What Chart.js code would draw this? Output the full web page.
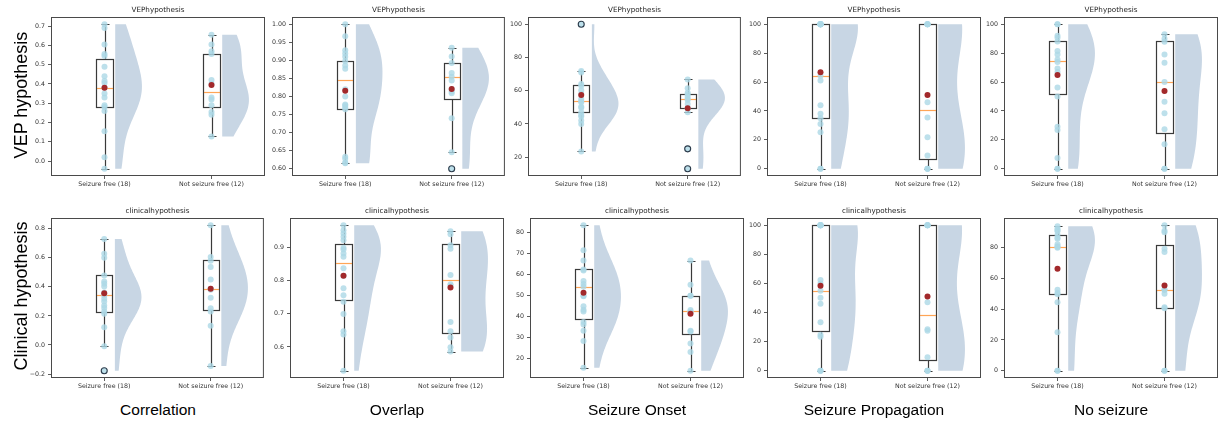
<!DOCTYPE html>
<html>
<head>
<meta charset="utf-8">
<script src="https://cdn.jsdelivr.net/npm/chart.js"></script>
<style>
  body { margin: 0; background: #fff; width: 1223px; height: 423px; position: relative; overflow: hidden; font-family: "Liberation Sans", Arial, sans-serif; }
  canvas { position: absolute; }
  .rowlab { position: absolute; font-size: 18px; color: #000; white-space: nowrap; transform: translate(-50%, -50%) rotate(-90deg); }
  .collab { position: absolute; font-size: 15.5px; color: #000; white-space: nowrap; transform: translate(-50%, -50%); }
</style>
</head>
<body>
<script>
const groups = ['Seizure free (18)', 'Not seizure free (12)'];
const positions = [1, 2];
const metrics = ['Correlation', 'Overlap', 'Seizure Onset', 'Seizure Propagation', 'No seizure'];
const rowLabels = ['VEP hypothesis', 'Clinical hypothesis'];
const panelTitles = ['VEPhypothesis', 'clinicalhypothesis'];

// patient values, one list per metric
const vepSeizureFree = [
  [0.71, 0.69, 0.605, 0.555, 0.545, 0.49, 0.44, 0.415, 0.405, 0.38, 0.35, 0.33, 0.29, 0.28, 0.26, 0.155, 0.02, -0.04],
  [1.00, 0.967, 0.928, 0.919, 0.91, 0.898, 0.886, 0.877, 0.82, 0.80, 0.778, 0.775, 0.77, 0.765, 0.633, 0.628, 0.617, 0.615],
  [100, 71.8, 71, 64, 63, 60.2, 58, 55, 53.8, 53, 50.4, 49.8, 47, 45.4, 44.4, 42, 40, 23.4],
  [100, 100, 100, 100, 100, 100, 100, 100, 100, 64.4, 61, 44, 38, 35, 31, 25.3, 0, 0],
  [100, 100, 92, 90.6, 88, 81.4, 79, 75.6, 73.8, 69.4, 67, 56.3, 50, 29, 26.9, 7.4, 0, 0]
];
const vepNotSeizureFree = [
  [0.655, 0.605, 0.57, 0.555, 0.42, 0.40, 0.33, 0.32, 0.29, 0.255, 0.24, 0.128],
  [0.935, 0.911, 0.893, 0.865, 0.855, 0.844, 0.82, 0.814, 0.809, 0.74, 0.646, 0.60],
  [66.8, 61.4, 58.8, 57.8, 56.4, 55, 54.4, 52, 49.4, 47, 25, 13],
  [100, 100, 100, 100, 100, 46, 35.4, 21.8, 9.2, 0, 0, 0],
  [93, 90, 87.8, 79, 73.3, 60, 46.4, 38.4, 27.4, 17, 0, 0]
];
const clinSeizureFree = [
  [0.729, 0.628, 0.60, 0.478, 0.437, 0.421, 0.402, 0.36, 0.34, 0.317, 0.299, 0.271, 0.255, 0.23, 0.214, 0.122, -0.009, -0.177],
  [0.967, 0.952, 0.942, 0.932, 0.922, 0.899, 0.894, 0.882, 0.872, 0.837, 0.815, 0.777, 0.756, 0.736, 0.699, 0.647, 0.637, 0.528],
  [83.5, 71.6, 66.7, 62.5, 62.0, 57, 55.6, 54.3, 50, 49.7, 45, 43.3, 42.5, 37.5, 36.3, 33.3, 28.4, 15.7],
  [100, 100, 100, 100, 100, 100, 100, 62.3, 60, 55, 50.1, 46, 33.3, 24.8, 23.4, 0, 0, 0],
  [93.9, 92.4, 91.5, 90.7, 88.5, 86.5, 85.9, 82.2, 81, 80.4, 80, 52.6, 50.7, 49.8, 44.6, 25, 0, 0]
];
const clinNotSeizureFree = [
  [0.823, 0.605, 0.579, 0.536, 0.451, 0.386, 0.38, 0.324, 0.253, 0.23, 0.133, -0.145],
  [0.949, 0.94, 0.907, 0.896, 0.817, 0.789, 0.785, 0.675, 0.647, 0.628, 0.599, 0.586],
  [66.7, 55.2, 50, 50, 43.2, 42.5, 42, 33.3, 33, 27.3, 23.2, 14.3],
  [100, 100, 100, 100, 100, 47.1, 28.5, 27.5, 9.2, 0, 0, 0],
  [94.6, 91.1, 90, 79.3, 77.2, 52.6, 52.6, 50, 41.3, 40.7, 0, 0]
];

// box stats: [lower whisker, q1, median, q3, upper whisker]
const vepBoxSF = [[-0.04, 0.281, 0.378, 0.528, 0.71], [0.615, 0.766, 0.847, 0.898, 1.0], [23.4, 47, 53.8, 63.2, 71.8], [0, 35, 64.4, 100, 100], [0, 51.5, 74.7, 88.3, 100]];
const vepBoxNSF = [[0.128, 0.279, 0.357, 0.555, 0.655], [0.646, 0.792, 0.854, 0.894, 0.935], [47, 49.4, 54.8, 57.8, 66.8], [0, 6.9, 40.5, 100, 100], [0, 24.6, 60, 88.3, 93]];
const clinBoxSF = [[-0.009, 0.228, 0.345, 0.478, 0.729], [0.528, 0.74, 0.853, 0.91, 0.967], [15.7, 38.7, 54.3, 62.5, 83.5], [0, 27.1, 54.9, 100, 100], [0, 49.8, 80.7, 88.5, 93.9]];
const clinBoxNSF = [[-0.145, 0.241, 0.386, 0.584, 0.823], [0.586, 0.642, 0.803, 0.91, 0.949], [14.3, 31.9, 42.7, 50, 66.7], [0, 7.4, 38, 100, 100], [0, 40.7, 52.6, 82, 94.6]];

const vepMeanSF = [0.38, 0.816, 57.4, 66.7, 64.8];
const vepMeanNSF = [0.395, 0.821, 49.4, 51, 53.8];
const clinMeanSF = [0.356, 0.815, 51.4, 58.4, 66.3];
const clinMeanNSF = [0.386, 0.779, 41.4, 51, 55.4];

const vepOutliersSF = [[], [], [100], [], []];
const vepOutliersNSF = [[], [0.60], [25, 13], [], []];
const clinOutliersSF = [[-0.177], [], [], [], []];
const clinOutliersNSF = [[], [], [], [], []];

const vepTicks = [
  [0, 0.1, 0.2, 0.3, 0.4, 0.5, 0.6, 0.7],
  [0.60, 0.65, 0.70, 0.75, 0.80, 0.85, 0.90, 0.95, 1.00],
  [20, 40, 60, 80, 100],
  [0, 20, 40, 60, 80, 100],
  [0, 20, 40, 60, 80, 100]
];
const clinTicks = [
  [-0.2, 0, 0.2, 0.4, 0.6, 0.8],
  [0.6, 0.7, 0.8, 0.9],
  [20, 30, 40, 50, 60, 70, 80],
  [0, 20, 40, 60, 80, 100],
  [0, 20, 40, 60, 80]
];
const vepTickDecimals = [1, 2, 0, 0, 0];
const clinTickDecimals = [1, 1, 0, 0, 0];

// layout of the panel frames
const colLeft = [[51, 292, 528, 767, 1004], [51, 290, 530, 767, 1004]];
const rowTop = [17, 218];
const rowHeight = [159, 160];
const panelWidth = 214;
const Y_W = 44, TITLE_H = 15, X_H = 22, PAD_R = 4;

// gaussian kernel density (scott bandwidth), same as the violin uses
function violinOutline(values, base, halfWidth) {
  const n = values.length;
  const mean = values.reduce((a, b) => a + b, 0) / n;
  const sd = Math.sqrt(values.reduce((a, v) => a + (v - mean) ** 2, 0) / (n - 1));
  const bw = sd * Math.pow(n, -0.2);
  const lo = Math.min(...values), hi = Math.max(...values);
  const ys = [], dens = [];
  for (let i = 0; i < 100; i++) {
    const y = lo + (hi - lo) * i / 99;
    let d = 0;
    for (const v of values) d += Math.exp(-0.5 * ((y - v) / bw) ** 2);
    ys.push(y);
    dens.push(d);
  }
  const maxD = Math.max(...dens);
  const pts = [{x: base, y: lo}];
  ys.forEach((y, i) => pts.push({x: base + halfWidth * dens[i] / maxD, y: y}));
  pts.push({x: base, y: hi});
  return pts;
}

function fmt(v, dec) {
  return v.toFixed(dec).replace('-', '\u2212');
}

function makePanel(r, c) {
  const vep = r === 0;
  const sets = vep ? [vepSeizureFree[c], vepNotSeizureFree[c]] : [clinSeizureFree[c], clinNotSeizureFree[c]];
  const boxes = vep ? [vepBoxSF[c], vepBoxNSF[c]] : [clinBoxSF[c], clinBoxNSF[c]];
  const means = vep ? [vepMeanSF[c], vepMeanNSF[c]] : [clinMeanSF[c], clinMeanNSF[c]];
  const outl = vep ? [vepOutliersSF[c], vepOutliersNSF[c]] : [clinOutliersSF[c], clinOutliersNSF[c]];
  const ticks = vep ? vepTicks[c] : clinTicks[c];
  const dec = vep ? vepTickDecimals[c] : clinTickDecimals[c];

  const canvas = document.createElement('canvas');
  canvas.width = Y_W + panelWidth + PAD_R;
  canvas.height = TITLE_H + rowHeight[r] + X_H;
  canvas.style.left = (colLeft[r][c] - Y_W) + 'px';
  canvas.style.top = (rowTop[r] - TITLE_H) + 'px';
  document.body.appendChild(canvas);

  const all = sets[0].concat(sets[1]);
  const lo = Math.min(...all), hi = Math.max(...all);
  const pad = (hi - lo) * 0.05;

  const datasets = [
    {
      data: positions.map((p, g) => ({x: p, y: means[g]})),
      backgroundColor: '#a2292b', borderWidth: 0, pointRadius: 3, order: 0
    },
    {
      data: [].concat(...positions.map((p, g) => outl[g].map(v => ({x: p, y: v})))),
      backgroundColor: 'rgba(0,0,0,0)', borderColor: '#2a3a4a', borderWidth: 1.1, pointRadius: 3, order: 1
    },
    {
      data: [].concat(...positions.map((p, g) => sets[g].map(v => ({x: p, y: v})))),
      backgroundColor: 'rgba(173,216,230,0.8)', borderWidth: 0, pointRadius: 3, order: 2
    }
  ];
  positions.forEach((p, g) => {
    datasets.push({
      data: violinOutline(sets[g], p + 0.1, 0.25),
      showLine: true, fill: 'shape', tension: 0.001,
      backgroundColor: 'rgb(200,214,228)', borderColor: 'rgb(200,214,228)', borderWidth: 0,
      pointRadius: 0, order: 5
    });
  });

  const boxPlugin = {
    id: 'boxes',
    beforeDatasetsDraw(chart) {
      const {ctx, scales: {x, y}} = chart;
      ctx.save();
      ctx.lineWidth = 1.2;
      boxes.forEach((b, g) => {
        const xc = Math.round(x.getPixelForValue(positions[g])) + 0.5;
        const x0 = Math.round(x.getPixelForValue(positions[g] - 0.075)) + 0.5;
        const x1 = Math.round(x.getPixelForValue(positions[g] + 0.075)) + 0.5;
        const cw = 4;
        const py = v => Math.round(y.getPixelForValue(v)) + 0.5;
        ctx.strokeStyle = '#3a3a3a';
        ctx.beginPath();
        ctx.moveTo(xc, py(b[0])); ctx.lineTo(xc, py(b[1]));
        ctx.moveTo(xc, py(b[3])); ctx.lineTo(xc, py(b[4]));
        ctx.moveTo(xc - cw, py(b[0])); ctx.lineTo(xc + cw, py(b[0]));
        ctx.moveTo(xc - cw, py(b[4])); ctx.lineTo(xc + cw, py(b[4]));
        ctx.stroke();
        ctx.strokeRect(x0, py(b[3]), x1 - x0, py(b[1]) - py(b[3]));
        ctx.strokeStyle = 'rgba(255,127,14,0.7)';
        ctx.beginPath();
        ctx.moveTo(x0 + 0.5, py(b[2])); ctx.lineTo(x1 - 0.5, py(b[2]));
        ctx.stroke();
      });
      ctx.restore();
    },
    afterDraw(chart) {
      const {ctx, chartArea: a} = chart;
      ctx.save();
      ctx.strokeStyle = '#4a4a4a';
      ctx.lineWidth = 1;
      ctx.strokeRect(a.left + 0.5, a.top + 0.5, a.right - a.left - 1, a.bottom - a.top - 1);
      // panel title centred over the axes frame
      ctx.fillStyle = '#222';
      ctx.font = '7.2px "DejaVu Sans"';
      ctx.textAlign = 'center';
      ctx.textBaseline = 'middle';
      ctx.fillText(panelTitles[r], (a.left + a.right) / 2, a.top - 7);
      ctx.restore();
    }
  };

  new Chart(canvas, {
    type: 'scatter',
    data: {datasets: datasets},
    options: {
      responsive: false,
      animation: false,
      events: [],
      devicePixelRatio: 1,
      layout: {padding: {top: TITLE_H, right: PAD_R, left: 0, bottom: 0}},
      plugins: {
        legend: {display: false},
        tooltip: {enabled: false},
        title: {display: false}
      },
      scales: {
        x: {
          type: 'linear', min: 0.5, max: 2.5,
          afterBuildTicks: s => { s.ticks = positions.map(v => ({value: v})); },
          afterFit: s => { s.height = X_H; },
          ticks: {
            callback: v => groups[positions.indexOf(v)],
            font: {family: 'DejaVu Sans', size: 6.3}, color: '#333', padding: 1.5, maxRotation: 0
          },
          grid: {display: true, drawOnChartArea: false, drawTicks: true, tickLength: 3, color: '#333', lineWidth: 0.8},
          border: {display: false}
        },
        y: {
          type: 'linear', min: lo - pad, max: hi + pad,
          afterBuildTicks: s => { s.ticks = ticks.map(v => ({value: v})); },
          afterFit: s => { s.width = Y_W; },
          ticks: {
            callback: v => fmt(v, dec),
            font: {family: 'DejaVu Sans', size: 6.3}, color: '#333', padding: 3
          },
          grid: {display: true, drawOnChartArea: false, drawTicks: true, tickLength: 3, color: '#333', lineWidth: 0.8},
          border: {display: false}
        }
      }
    },
    plugins: [boxPlugin]
  });
}

for (let r = 0; r < 2; r++) {
  for (let c = 0; c < 5; c++) makePanel(r, c);
}

rowLabels.forEach((t, r) => {
  const d = document.createElement('div');
  d.className = 'rowlab';
  d.textContent = t;
  d.style.left = '21px';
  d.style.top = (rowTop[r] + rowHeight[r] / 2 - 2) + 'px';
  document.body.appendChild(d);
});
metrics.forEach((t, c) => {
  const d = document.createElement('div');
  d.className = 'collab';
  d.textContent = t;
  d.style.left = (colLeft[1][c] + panelWidth / 2) + 'px';
  d.style.top = '410px';
  document.body.appendChild(d);
});
</script>
</body>
</html>
